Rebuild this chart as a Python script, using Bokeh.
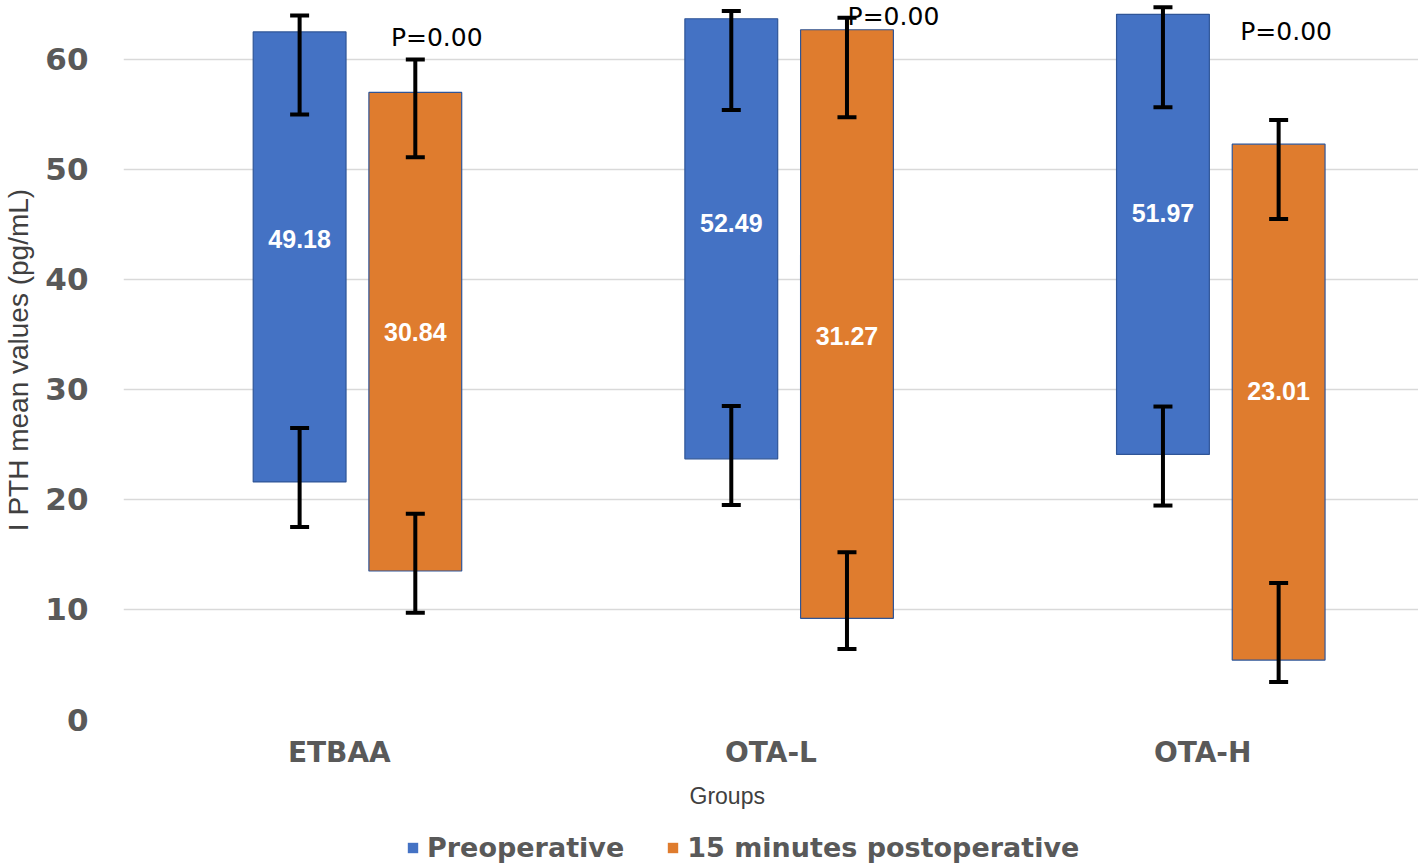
from bokeh.plotting import figure
from bokeh.layouts import column
from bokeh.models import (ColumnDataSource, FactorRange, Range1d, Whisker, TeeHead,
                          Legend, LegendItem, SingleIntervalTicker, LabelSet, Title)
from bokeh.transform import dodge
from bokeh.core.properties import value
from bokeh.embed import file_html
from bokeh.resources import INLINE

# ---------------- data ----------------
groups = ["ETBAA", "OTA-L", "OTA-H"]
series = ["Preoperative", "15 minutes postoperative"]

pre_low = [21.6, 23.7, 24.1]
pre_high = [62.5, 63.7, 64.1]
post_low = [13.5, 9.2, 5.4]
post_high = [57.0, 62.7, 52.3]

pre_mean = ["49.18", "52.49", "51.97"]
post_mean = ["30.84", "31.27", "23.01"]
pre_label_at = [43.7, 45.1, 46.0]
post_label_at = [35.2, 34.9, 29.85]

pre_err_top_hi = [64.0, 64.4, 64.75]
pre_err_top_lo = [55.0, 55.4, 55.66]
pre_err_bot_hi = [26.5, 28.5, 28.45]
pre_err_bot_lo = [17.5, 19.5, 19.45]
post_err_top_hi = [60.0, 63.8, 54.5]
post_err_top_lo = [51.1, 54.75, 45.5]
post_err_bot_hi = [18.7, 15.2, 12.4]
post_err_bot_lo = [9.7, 6.4, 3.4]

p_text = ["P=0.00", "P=0.00", "P=0.00"]
p_at = [62.0, 63.9, 62.5]

y_ticks_interval = 10

# ---------------- styles ----------------
BLUE = "#4472C4"
ORANGE = "#DF7C2E"
OUTLINE = "#2F5597"
GRAY_TXT = "#595959"
FONT = "Liberation Sans"
WIDE = "DejaVu Sans"

BLUE_OFF = -0.092
ORANGE_OFF = 0.176
BAR_W = 0.215
P_OFF = 0.235
p_dx = [-4, 21, -18]  # small pixel nudges of the P labels

p = figure(width=1418, height=825, output_backend="svg", toolbar_location=None,
           x_range=FactorRange(factors=groups), y_range=Range1d(0, 65.36),
           min_border_left=120, min_border_right=0, min_border_top=0,
           min_border_bottom=106)
p.outline_line_color = None
p.background_fill_color = "white"

pre = ColumnDataSource(dict(group=groups, low=pre_low, high=pre_high, lab=pre_mean,
                            laby=pre_label_at, thi=pre_err_top_hi, tlo=pre_err_top_lo,
                            bhi=pre_err_bot_hi, blo=pre_err_bot_lo))
post = ColumnDataSource(dict(group=groups, low=post_low, high=post_high, lab=post_mean,
                             laby=post_label_at, thi=post_err_top_hi, tlo=post_err_top_lo,
                             bhi=post_err_bot_hi, blo=post_err_bot_lo))
psrc = ColumnDataSource(dict(group=groups, txt=p_text, y=p_at, dx=p_dx))

p.vbar(x=dodge("group", BLUE_OFF, range=p.x_range), bottom="low", top="high",
       width=BAR_W, source=pre, fill_color=BLUE, line_color=OUTLINE, line_width=1.2)
p.vbar(x=dodge("group", ORANGE_OFF, range=p.x_range), bottom="low", top="high",
       width=BAR_W, source=post, fill_color=ORANGE, line_color=OUTLINE, line_width=1.2)

for src, off in ((pre, BLUE_OFF), (post, ORANGE_OFF)):
    for hi, lo in (("thi", "tlo"), ("bhi", "blo")):
        w = Whisker(base=dodge("group", off, range=p.x_range), upper=hi, lower=lo, source=src,
                    line_color="black", line_width=4, level="overlay",
                    upper_head=TeeHead(size=19, line_width=4, line_color="black"),
                    lower_head=TeeHead(size=19, line_width=4, line_color="black"))
        p.add_layout(w)
    p.text(x=dodge("group", off, range=p.x_range), y="laby", text="lab", source=src,
           text_color="white", text_font=value(FONT), text_font_style="bold",
           text_font_size="25px", text_align="center", text_baseline="middle")

plabels = LabelSet(x=dodge("group", P_OFF, range=p.x_range), y="y", text="txt",
                   x_offset="dx", source=psrc, text_color="black", text_font=value(WIDE),
                   text_font_size="25px", text_align="center", text_baseline="middle",
                   level="overlay")
p.add_layout(plabels)

# axes
p.xgrid.grid_line_color = None
p.ygrid.grid_line_color = "#D9D9D9"
p.ygrid.grid_line_width = 1.5
p.yaxis.ticker = SingleIntervalTicker(interval=y_ticks_interval)
p.yaxis.axis_line_color = None
p.yaxis.major_tick_line_color = None
p.yaxis.minor_tick_line_color = None
p.yaxis.major_tick_out = 0
p.yaxis.major_tick_in = 0
p.yaxis.major_label_text_font = WIDE
p.yaxis.major_label_text_font_style = "bold"
p.yaxis.major_label_text_font_size = "31px"
p.yaxis.major_label_text_color = GRAY_TXT
p.yaxis.major_label_standoff = 31
p.yaxis.axis_label = "I PTH mean values (pg/mL)"
p.yaxis.axis_label_text_font = FONT
p.yaxis.axis_label_text_font_style = "normal"
p.yaxis.axis_label_text_font_size = "28px"
p.yaxis.axis_label_text_color = "#404040"
p.yaxis.axis_label_standoff = 8

p.xaxis.axis_line_color = None
p.xaxis.major_tick_line_color = None
p.xaxis.minor_tick_line_color = None
p.xaxis.major_tick_out = 0
p.xaxis.major_tick_in = 0
p.xaxis.major_label_text_font = WIDE
p.xaxis.major_label_text_font_style = "bold"
p.xaxis.major_label_text_font_size = "28px"
p.xaxis.major_label_text_color = GRAY_TXT
p.xaxis.major_label_standoff = 16

xtitle = Title(text="Groups", align="left", offset=566, standoff=19,
               text_font=FONT, text_font_style="normal", text_font_size="23px",
               text_color="#404040")
p.add_layout(xtitle, "below")

# legend strip below the chart (proxies share the real data, drawn outside its y range)
lg = figure(width=1418, height=40, output_backend="svg", toolbar_location=None,
            x_range=p.x_range, y_range=Range1d(1000, 1001),
            x_axis_location=None, y_axis_location=None, min_border=0)
lg.outline_line_color = None
lg.grid.visible = False
k_pre = lg.vbar(x=dodge("group", BLUE_OFF, range=p.x_range), bottom="low", top="high",
                width=BAR_W, source=pre, fill_color=BLUE, line_color=None)
k_post = lg.vbar(x=dodge("group", ORANGE_OFF, range=p.x_range), bottom="low", top="high",
                 width=BAR_W, source=post, fill_color=ORANGE, line_color=None)
legend = Legend(items=[LegendItem(label=series[0], renderers=[k_pre]),
                       LegendItem(label=series[1], renderers=[k_post])],
                orientation="horizontal", location=(283, 2),
                label_text_font=WIDE, label_text_font_style="bold",
                label_text_font_size="27px", label_text_color=GRAY_TXT,
                glyph_width=13, glyph_height=13, label_standoff=8, spacing=42,
                border_line_color=None, background_fill_alpha=0, padding=0, margin=0)
lg.add_layout(legend, "center")

layout = column(p, lg, spacing=0)
open("out.html", "w").write(file_html(layout, INLINE))
